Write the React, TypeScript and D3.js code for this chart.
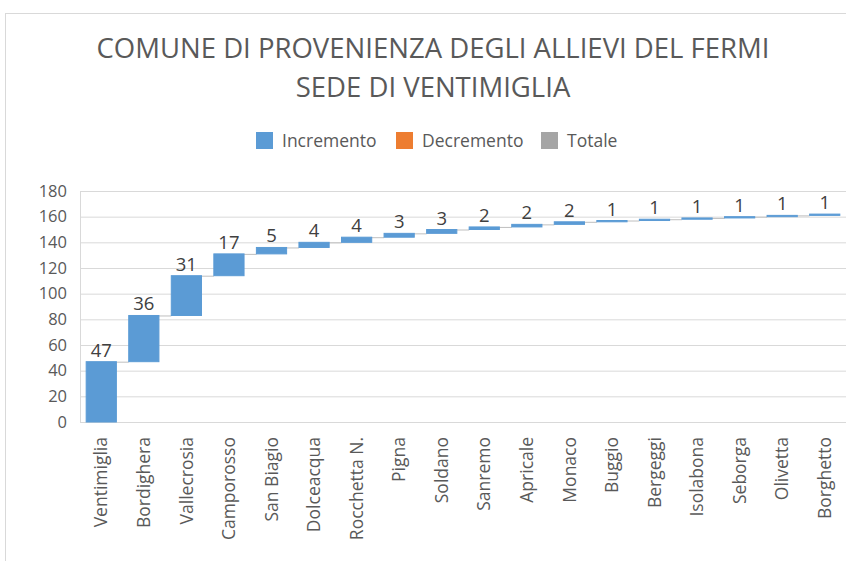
import React, { useEffect, useRef } from 'react';
import * as d3 from 'd3';

// comuni di provenienza, in order
const comuni = ['Ventimiglia', 'Bordighera', 'Vallecrosia', 'Camporosso', 'San Biagio', 'Dolceacqua', 'Rocchetta N.', 'Pigna', 'Soldano', 'Sanremo', 'Apricale', 'Monaco', 'Buggio', 'Bergeggi', 'Isolabona', 'Seborga', 'Olivetta', 'Borghetto'];
const allievi = [47, 36, 31, 17, 5, 4, 4, 3, 3, 2, 2, 2, 1, 1, 1, 1, 1, 1];
const yTicks = [0, 20, 40, 60, 80, 100, 120, 140, 160, 180];
const legendItems = [
  { label: 'Incremento', color: '#5b9bd5' },
  { label: 'Decremento', color: '#ed7d31' },
  { label: 'Totale', color: '#a5a5a5' },
];

const W = 846;
const H = 561;
const FONT = '"Open Sans", sans-serif';

const App = () => {
  const ref = useRef<SVGSVGElement>(null);

  useEffect(() => {
    const svg = d3.select(ref.current);
    svg.selectAll('*').remove();

    // chart frame (right and bottom edges fall outside the picture)
    svg.append('rect')
      .attr('x', 5.5).attr('y', 13.5)
      .attr('width', 860).attr('height', 570)
      .attr('fill', '#fff').attr('stroke', '#d9d9d9');

    // title
    const title = svg.append('text')
      .attr('text-anchor', 'middle')
      .attr('fill', '#595959')
      .style('font-family', FONT)
      .style('font-size', '27.5px');
    title.append('tspan').attr('x', 433).attr('y', 58).text('COMUNE DI PROVENIENZA DEGLI ALLIEVI DEL FERMI');
    title.append('tspan').attr('x', 433).attr('y', 97).text('SEDE DI VENTIMIGLIA');

    // legend
    const legendX = [256, 396, 541];
    legendItems.forEach((d, i) => {
      const g = svg.append('g').attr('transform', `translate(${legendX[i]},132)`);
      g.append('rect').attr('width', 17).attr('height', 17).attr('fill', d.color);
      g.append('text')
        .attr('x', 26).attr('y', 15)
        .attr('fill', '#595959')
        .style('font-family', FONT)
        .style('font-size', '17.5px')
        .text(d.label);
    });

    const margin = { top: 191, left: 80, right: 0, bottom: 139 };
    const innerW = W - margin.left - margin.right;
    const innerH = H - margin.top - margin.bottom;
    const g = svg.append('g').attr('transform', `translate(${margin.left},${margin.top})`);

    const x = d3.scaleBand().domain(comuni).range([0, innerW]).paddingInner(0.29).paddingOuter(0.145);
    const y = d3.scaleLinear().domain([0, 180]).range([innerH, 0]);

    // gridlines
    g.selectAll('.grid')
      .data(yTicks)
      .enter()
      .append('line')
      .attr('x1', 0).attr('x2', innerW)
      .attr('y1', d => y(d) + 0.5).attr('y2', d => y(d) + 0.5)
      .attr('stroke', '#d9d9d9');

    // left axis line
    g.append('line')
      .attr('x1', 0.5).attr('x2', 0.5)
      .attr('y1', 0).attr('y2', innerH)
      .attr('stroke', '#d9d9d9');

    // y labels
    g.selectAll('.ylab')
      .data(yTicks)
      .enter()
      .append('text')
      .attr('x', -13).attr('y', d => y(d))
      .attr('dy', '0.35em')
      .attr('text-anchor', 'end')
      .attr('fill', '#595959')
      .style('font-family', FONT)
      .style('font-size', '16.5px')
      .text(d => d);

    // waterfall steps
    const cum = d3.cumsum(allievi);
    const steps = comuni.map((c, i) => ({ name: c, value: allievi[i], start: cum[i] - allievi[i], end: cum[i] }));

    // connectors
    g.selectAll('.conn')
      .data(steps.slice(0, -1))
      .enter()
      .append('line')
      .attr('x1', d => x(d.name)! + x.bandwidth())
      .attr('x2', (d, i) => x(comuni[i + 1])!)
      .attr('y1', d => y(d.end) + 0.5)
      .attr('y2', d => y(d.end) + 0.5)
      .attr('stroke', '#bfbfbf');

    g.selectAll('.bar')
      .data(steps)
      .enter()
      .append('rect')
      .attr('x', d => x(d.name)!)
      .attr('width', x.bandwidth())
      .attr('y', d => y(d.end))
      .attr('height', d => y(d.start) - y(d.end))
      .attr('fill', '#5b9bd5')
      .attr('stroke', '#5b9bd5')
      .attr('stroke-width', 1);

    // value labels
    g.selectAll('.val')
      .data(steps)
      .enter()
      .append('text')
      .attr('x', d => x(d.name)! + x.bandwidth() / 2)
      .attr('y', d => y(d.end) - 5)
      .attr('text-anchor', 'middle')
      .attr('fill', '#404040')
      .style('font-family', FONT)
      .style('font-size', '18.5px')
      .text(d => d.value);

    // category labels
    g.selectAll('.xlab')
      .data(comuni)
      .enter()
      .append('text')
      .attr('transform', d => `translate(${x(d)! + x.bandwidth() / 2},${innerH + 15}) rotate(-90)`)
      .attr('dy', '0.35em')
      .attr('text-anchor', 'end')
      .attr('fill', '#595959')
      .style('font-family', FONT)
      .style('font-size', '17.5px')
      .text(d => d);
  }, []);

  return (
    <svg ref={ref} width={W} height={H} style={{ position: 'absolute', left: 0, top: 0 }}></svg>
  );
};

export default App;
